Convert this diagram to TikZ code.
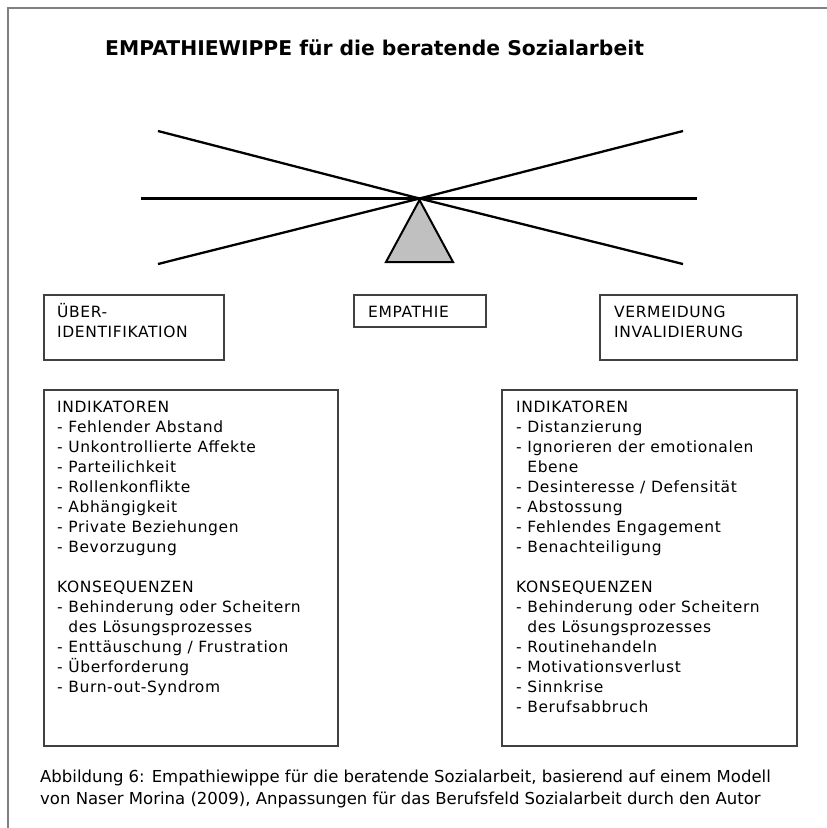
\documentclass[tikz,border=0pt]{standalone}
\usepackage{fontspec}
\setmainfont{DejaVu Sans}
\newfontfamily\boxfont[LetterSpace=4]{DejaVu Sans}
\definecolor{framegray}{HTML}{808080}
\definecolor{boxgray}{HTML}{404040}
\definecolor{fulcrum}{HTML}{C0C0C0}
\begin{document}
\begin{tikzpicture}[x=1pt,y=-1pt,
  boxstyle/.style={draw=boxgray, line width=1.5pt, inner sep=0pt, anchor=north west},
  beam/.style={line width=2.3pt, black},
  txt/.style={anchor=base west, inner sep=0pt, font=\boxfont\fontsize{15.5}{20}\selectfont},
  titletxt/.style={anchor=base west, inner sep=0pt, font=\bfseries\fontsize{20.3}{24}\selectfont},
  captxt/.style={anchor=base west, inner sep=0pt, font=\fontsize{16.5}{22}\selectfont}]
\useasboundingbox (0,0) rectangle (827,828);
\fill[white] (0,0) rectangle (827,828);
% outer page frame (top and left edge)
\draw[draw=framegray, line width=2pt] (8,828) -- (8,8) -- (827,8);

% title
\node[titletxt] (title) at (105,55) {EMPATHIEWIPPE für die beratende Sozialarbeit};

% seesaw
\coordinate (pivot) at (419.5,198.5);
\coordinate (tl) at (158,131);
\coordinate (tr) at (683,131);
\coordinate (bl) at (158,264);
\coordinate (br) at (683,264);
\coordinate (hl) at (141,198.5);
\coordinate (hr) at (697,198.5);
\draw[beam] (hl) -- (hr);
\draw[beam] (tl) -- (pivot) -- (br);
\draw[beam] (bl) -- (pivot) -- (tr);
\draw[fill=fulcrum, line width=2pt, line join=miter] (419.5,200) -- (453,262) -- (386,262) -- cycle;

% header boxes
\node[boxstyle, minimum width=180pt, minimum height=65pt] (ueberbox) at (43,294) {};
\node[boxstyle, minimum width=132pt, minimum height=32pt] (empbox) at (353,294) {};
\node[boxstyle, minimum width=197pt, minimum height=65pt] (vermbox) at (599,294) {};
\node[txt] (ueber1) at (57,317.5) {ÜBER-};
\node[txt] (ueber2) at (57,337.5) {IDENTIFIKATION};
\node[txt] (emp) at (368,317.5) {EMPATHIE};
\node[txt] (verm1) at (614,317.5) {VERMEIDUNG};
\node[txt] (verm2) at (614,337.5) {INVALIDIERUNG};

% list boxes
\node[boxstyle, minimum width=294pt, minimum height=356pt] (leftbox) at (43,389) {};
\node[boxstyle, minimum width=295pt, minimum height=356pt] (rightbox) at (501,389) {};

\foreach \i/\t in {0/{INDIKATOREN}, 1/{- Fehlender Abstand}, 2/{- Unkontrollierte Affekte},
  3/{- Parteilichkeit}, 4/{- Rollenkonflikte}, 5/{- Abhängigkeit}, 6/{- Private Beziehungen},
  7/{- Bevorzugung}, 9/{KONSEQUENZEN}, 10/{- Behinderung oder Scheitern},
  11/{\hphantom{- }des Lösungsprozesses}, 12/{- Enttäuschung / Frustration},
  13/{- Überforderung}, 14/{- Burn-out-Syndrom}}
  \node[txt] (l\i) at (57,412+20*\i) {\t};

\foreach \i/\t in {0/{INDIKATOREN}, 1/{- Distanzierung}, 2/{- Ignorieren der emotionalen},
  3/{\hphantom{- }Ebene}, 4/{- Desinteresse / Defensität}, 5/{- Abstossung},
  6/{- Fehlendes Engagement}, 7/{- Benachteiligung}, 9/{KONSEQUENZEN},
  10/{- Behinderung oder Scheitern}, 11/{\hphantom{- }des Lösungsprozesses},
  12/{- Routinehandeln}, 13/{- Motivationsverlust}, 14/{- Sinnkrise}, 15/{- Berufsabbruch}}
  \node[txt] (r\i) at (516,412+20*\i) {\t};

% caption
\node[captxt] (cap1) at (40,782) {Abbildung 6: Empathiewippe für die beratende Sozialarbeit, basierend auf einem Modell};
\node[captxt] (cap2) at (40,804) {von Naser Morina (2009), Anpassungen für das Berufsfeld Sozialarbeit durch den Autor};
\end{tikzpicture}
\end{document}
